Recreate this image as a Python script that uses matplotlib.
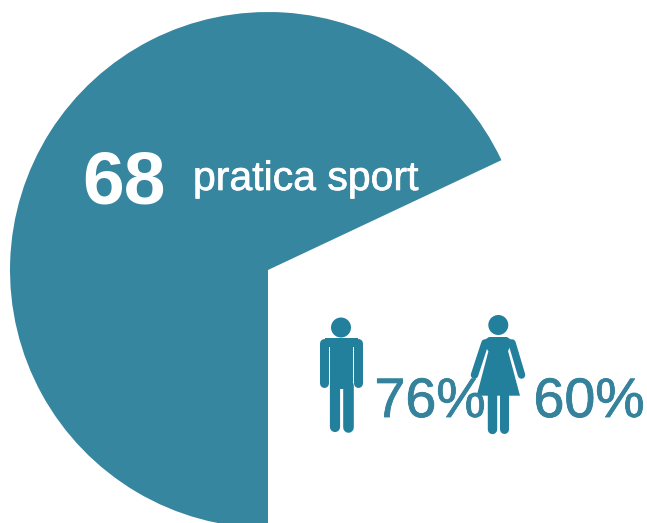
import matplotlib
matplotlib.use('Agg')
from matplotlib import pyplot as plt
from matplotlib import patheffects
from matplotlib.patches import Circle, Polygon, Rectangle

W, H = 647, 523

share_values = [68, 32]
share_label = '68'
share_text = 'pratica sport'
men_label = '76%'
women_label = '60%'

PIE_COLOR = '#37869f'
ICON_COLOR = '#23809d'
TEXT_COLOR = '#34829c'
PX = 72 / 100  # one pixel in points at dpi 100

plt.rcParams['font.family'] = ['Liberation Sans', 'DejaVu Sans']


def limb(ax, pts, width):
    xs = [p[0] for p in pts]
    ys = [H - p[1] for p in pts]
    ax.plot(xs, ys, color=ICON_COLOR, lw=width * PX, solid_capstyle='round',
            solid_joinstyle='round', zorder=3)


def rect(ax, x0, y0, x1, y1):
    ax.add_patch(Rectangle((x0, H - y1), x1 - x0, y1 - y0, color=ICON_COLOR,
                           lw=0, zorder=3))


def draw_man(ax):
    ax.add_patch(Circle((341, H - 327.5), 10, color=ICON_COLOR, lw=0, zorder=3))
    rect(ax, 324.5, 338, 357.5, 347)
    rect(ax, 330.2, 340, 352.5, 389)
    limb(ax, [(324.2, 342.5), (324.2, 382.5)], 9)
    limb(ax, [(357.5, 342.5), (357.5, 382.5)], 9)
    limb(ax, [(334.6, 385), (334.6, 427.2)], 10.2)
    limb(ax, [(347.6, 385), (347.6, 427.2)], 10.6)


def draw_woman(ax):
    ax.add_patch(Circle((498.3, H - 325), 10, color=ICON_COLOR, lw=0, zorder=3))
    shoulders = [(489, 337), (507, 337), (513, 341), (508, 351), (488, 351), (483, 341)]
    ax.add_patch(Polygon([(x, H - y) for x, y in shoulders], color=ICON_COLOR,
                         lw=0, zorder=3))
    dress = [(489, 349), (507.5, 349), (520, 395.7), (476.7, 395.7)]
    ax.add_patch(Polygon([(x, H - y) for x, y in dress], color=ICON_COLOR,
                         lw=0, zorder=3))
    limb(ax, [(485, 343), (474.5, 375)], 7.5)
    limb(ax, [(512, 343), (521.5, 375)], 7.5)
    limb(ax, [(492, 392), (492, 428.5)], 9.4)
    limb(ax, [(503.8, 392), (503.8, 428.5)], 9)


fig = plt.figure(figsize=(W / 100, H / 100), dpi=100)
ax = fig.add_axes([0, 0, 1, 1])

# pie runs anticlockwise and ends straight down
ax.pie(share_values, colors=[PIE_COLOR, 'none'], center=(268, H - 270), radius=258,
       startangle=270 - share_values[0] * 3.6, frame=True,
       wedgeprops={'linewidth': 0})
ax.set_xlim(0, W)
ax.set_ylim(0, H)
ax.set_aspect('equal')
ax.axis('off')

# thin outline makes the regular weight a little heavier
heavier = [patheffects.withStroke(linewidth=0.5, foreground='white')]
heavier_teal = [patheffects.withStroke(linewidth=0.6, foreground=TEXT_COLOR)]

ax.text(82, H - 203, share_label, color='white', fontsize=54, fontweight='bold',
        ha='left', va='baseline')
ax.text(193, H - 190, share_text, color='white', fontsize=29.5, ha='left', va='baseline',
        path_effects=heavier)

draw_man(ax)
draw_woman(ax)

ax.text(374.5, H - 417, men_label, color=TEXT_COLOR, fontsize=40, ha='left',
        va='baseline', zorder=4, path_effects=heavier_teal)
ax.text(533.5, H - 417, women_label, color=TEXT_COLOR, fontsize=40, ha='left',
        va='baseline', zorder=4, path_effects=heavier_teal)

fig.savefig('out.png', dpi=100)
